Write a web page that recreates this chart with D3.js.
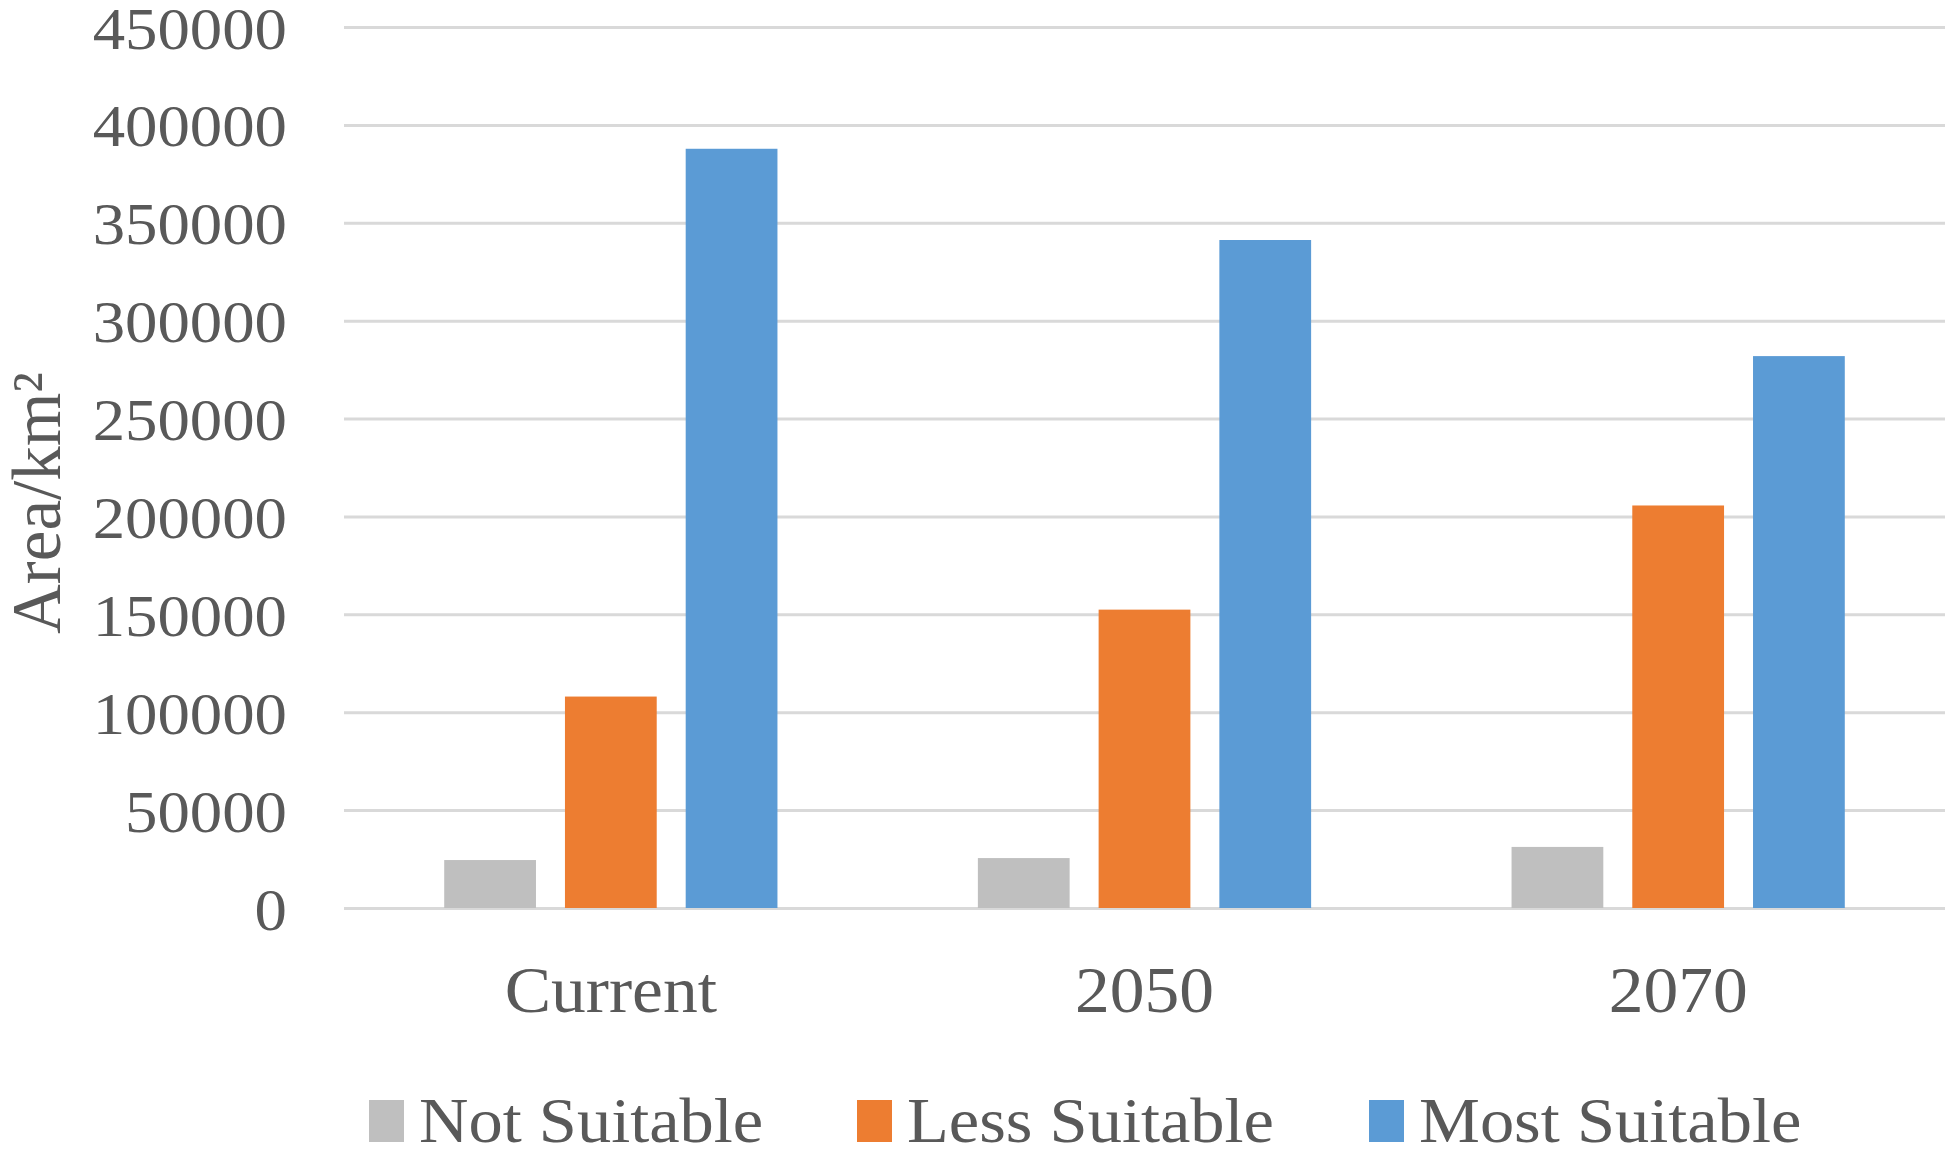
<!DOCTYPE html>
<html>
<head>
<meta charset="utf-8">
<script src="https://cdn.jsdelivr.net/npm/d3@7"></script>
<style>
  html, body { margin: 0; padding: 0; background: #fff; }
  svg { display: block; }
  text { font-family: "Liberation Serif", "Times New Roman", serif; fill: #595959; }
</style>
</head>
<body>
<svg id="chart" width="1956" height="1155"></svg>
<script>
// ---- data ----
const categories = ["Current", "2050", "2070"];
const seriesNames = ["Not Suitable", "Less Suitable", "Most Suitable"];
const notSuitable = [24500, 25500, 31200];
const lessSuitable = [108000, 152400, 205600];
const mostSuitable = [387800, 341200, 281900];
const yTicks = [0, 50000, 100000, 150000, 200000, 250000, 300000, 350000, 400000, 450000];
const yLabel = "Area/km²";
const colors = ["#BFBFBF", "#ED7D31", "#5B9BD5"];

const seriesValues = [notSuitable, lessSuitable, mostSuitable];

// ---- layout ----
const plot = { left: 344, right: 1945, top: 27, bottom: 908 };
const legendX = [369, 857, 1369];
const svg = d3.select("#chart");

const x0 = d3.scaleBand().domain(categories).range([plot.left, plot.right]).paddingInner(0).paddingOuter(0);
const x1 = d3.scaleBand().domain(seriesNames).range([0, x0.bandwidth()]).paddingInner(0.24).paddingOuter(0.83);
const y = d3.scaleLinear().domain([0, 450000]).range([plot.bottom, plot.top]);
const color = d3.scaleOrdinal().domain(seriesNames).range(colors);

// gridlines
const grid = d3.axisLeft(y).tickValues(yTicks).tickSize(-(plot.right - plot.left)).tickFormat("");
const gG = svg.append("g").attr("transform", `translate(${plot.left},0)`).call(grid);
gG.select(".domain").remove();
gG.selectAll(".tick line").attr("stroke", "#D9D9D9").attr("stroke-width", 3);

// y tick labels
const yAxis = d3.axisLeft(y).tickValues(yTicks).tickSize(0).tickPadding(0).tickFormat(d3.format("d"));
const yG = svg.append("g").attr("transform", `translate(287,0)`).call(yAxis);
yG.select(".domain").remove();
yG.selectAll(".tick text")
  .attr("x", null).attr("dy", null)
  .attr("fill", "#595959")
  .style("font-family", '"Liberation Serif", serif')
  .style("font-size", "60px")
  .attr("text-anchor", "end")
  .attr("transform", "translate(0,21) scale(1.08,1)");

// bars
const data = categories.map((c, i) => ({ cat: c, vals: seriesNames.map((s, j) => ({ s, v: seriesValues[j][i] })) }));
const groups = svg.append("g").selectAll("g").data(data).join("g")
  .attr("transform", d => `translate(${x0(d.cat)},0)`);
groups.selectAll("rect").data(d => d.vals).join("rect")
  .attr("x", d => x1(d.s))
  .attr("width", x1.bandwidth())
  .attr("y", d => y(d.v))
  .attr("height", d => y(0) - y(d.v))
  .attr("fill", d => color(d.s));

// x category labels
const xAxis = d3.axisBottom(x0).tickSize(0).tickPadding(0);
const xG = svg.append("g").attr("transform", `translate(0,${plot.bottom})`).call(xAxis);
xG.select(".domain").remove();
xG.selectAll(".tick text")
  .attr("y", null).attr("dy", null)
  .attr("fill", "#595959")
  .style("font-family", '"Liberation Serif", serif')
  .style("font-size", "65px")
  .attr("text-anchor", "middle")
  .attr("transform", "translate(0,104) scale(1.07,1)");

// y axis title
svg.append("text")
  .attr("transform", `translate(60,503) rotate(-90)`)
  .attr("text-anchor", "middle")
  .style("font-size", "69px")
  .text(yLabel);

// legend
const legend = svg.append("g");
seriesNames.forEach((s, i) => {
  const lx = legendX[i];
  legend.append("rect").attr("x", lx).attr("y", 1100).attr("width", 35).attr("height", 42).attr("fill", color(s));
  legend.append("text")
    .attr("transform", `translate(${lx + 50},1142) scale(1.07,1)`)
    .style("font-size", "64px")
    .text(s);
});
</script>
</body>
</html>
